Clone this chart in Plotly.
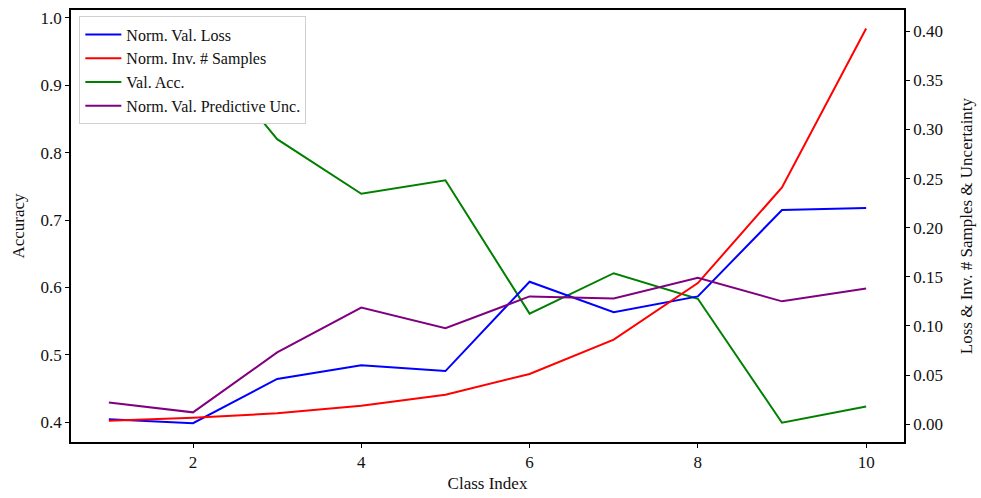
import plotly.graph_objects as go

# Per-class metrics
class_index = [1, 2, 3, 4, 5, 6, 7, 8, 9, 10]
val_acc = [0.983, 0.972, 0.820, 0.739, 0.759, 0.561, 0.621, 0.583, 0.399, 0.423]
norm_val_loss = [0.005, 0.001, 0.046, 0.060, 0.054, 0.145, 0.114, 0.130, 0.218, 0.220]
norm_inv_samples = [0.0034, 0.0064, 0.011, 0.0187, 0.030, 0.051, 0.086, 0.1436, 0.241, 0.4027]
norm_val_unc = [0.022, 0.012, 0.073, 0.1186, 0.0976, 0.130, 0.128, 0.149, 0.125, 0.138]

FONT = "Liberation Serif"

fig = go.Figure()
fig.add_trace(go.Scatter(x=class_index, y=norm_val_loss, mode="lines", name="Norm. Val. Loss",
                         line=dict(color="blue", width=2), yaxis="y2"))
fig.add_trace(go.Scatter(x=class_index, y=norm_inv_samples, mode="lines", name="Norm. Inv. # Samples",
                         line=dict(color="red", width=2), yaxis="y2"))
fig.add_trace(go.Scatter(x=class_index, y=val_acc, mode="lines", name="Val. Acc.",
                         line=dict(color="green", width=2), yaxis="y"))
fig.add_trace(go.Scatter(x=class_index, y=norm_val_unc, mode="lines", name="Norm. Val. Predictive Unc.",
                         line=dict(color="purple", width=2), yaxis="y2"))

axis_common = dict(showline=True, linecolor="black", linewidth=1.5, ticks="outside", ticklen=4,
                   tickcolor="black", showgrid=False, zeroline=False,
                   tickfont=dict(family=FONT, size=17, color="#111"))

fig.update_layout(
    width=981, height=498,
    margin=dict(l=71, r=76, t=8, b=56),
    plot_bgcolor="white", paper_bgcolor="white",
    font=dict(family=FONT, size=16, color="#111"),
    xaxis=dict(range=[0.55, 10.45], tickvals=[2, 4, 6, 8, 10], mirror=True,
               title=dict(text="Class Index", font=dict(family=FONT, size=17), standoff=6),
               **axis_common),
    yaxis=dict(range=[0.3704, 1.0118], tickvals=[0.4, 0.5, 0.6, 0.7, 0.8, 0.9, 1.0], tickformat=".1f",
               title=dict(text="Accuracy", font=dict(family=FONT, size=17), standoff=12),
               **axis_common),
    yaxis2=dict(range=[-0.0182, 0.4216], overlaying="y", side="right",
                tickvals=[0, 0.05, 0.1, 0.15, 0.2, 0.25, 0.3, 0.35, 0.4], tickformat=".2f",
                title=dict(text="Loss & Inv. # Samples & Uncertainty", font=dict(family=FONT, size=17), standoff=18),
                **axis_common),
    legend=dict(x=0.01, y=0.985, xanchor="left", yanchor="top",
                bgcolor="white", bordercolor="#d0d0d0", borderwidth=1,
                itemwidth=36,
                font=dict(family=FONT, size=16, color="#111"), tracegroupgap=0),
    showlegend=True,
)

fig.write_html("out.html")
